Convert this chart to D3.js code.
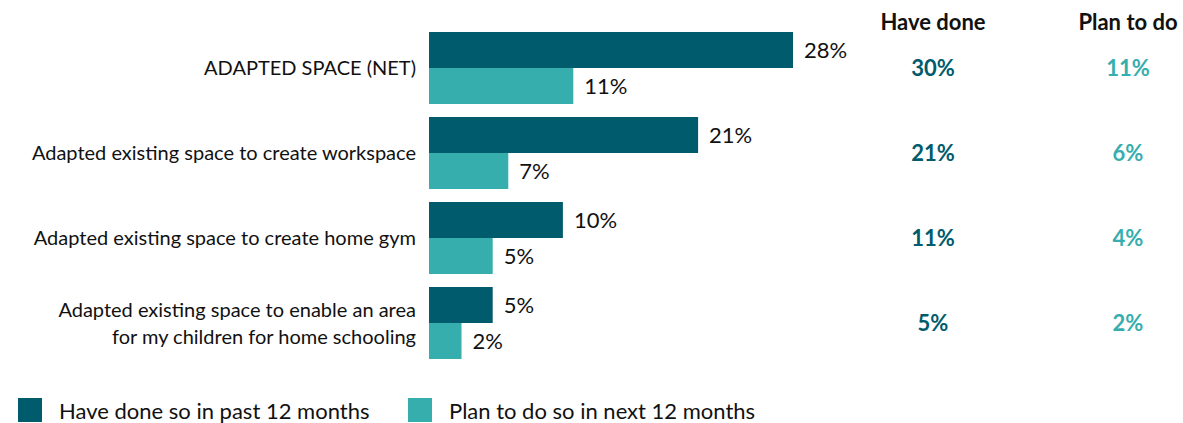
<!DOCTYPE html>
<html>
<head>
<meta charset="utf-8">
<script src="https://cdn.jsdelivr.net/npm/d3@7"></script>
<style>
  body { margin: 0; background: #fff; }
  svg text { font-family: Lato, "Noto Sans", sans-serif; fill: #111; }
</style>
</head>
<body>
<div id="chart"></div>
<script>
// data
var categories = [
	['ADAPTED SPACE (NET)'],
	['Adapted existing space to create workspace'],
	['Adapted existing space to create home gym'],
	['Adapted existing space to enable an area', 'for my children for home schooling']
];
var haveDone = [28, 20.7, 10.3, 4.9];
var planToDo = [11.1, 6.1, 4.9, 2.5];
var haveDoneLabels = ['28%', '21%', '10%', '5%'];
var planToDoLabels = ['11%', '7%', '5%', '2%'];
var haveDoneTotal = ['30%', '21%', '11%', '5%'];
var planToDoTotal = ['11%', '6%', '4%', '2%'];
var seriesNames = ['Have done so in past 12 months', 'Plan to do so in next 12 months'];
var columnHeads = ['Have done', 'Plan to do'];

var width = 1183;
var height = 423;
var darkColor = '#005b6c';
var tealColor = '#36aead';
var barLeft = 429;
var barHeight = 36;

var svg = d3.select('#chart').append('svg').attr('width', width).attr('height', height);

var x = d3.scaleLinear().domain([0, 28]).range([barLeft, barLeft + 364]);
var y = d3.scaleBand().domain(d3.range(categories.length)).range([32, 359]).paddingInner(13 / 85).paddingOuter(0);

var groups = svg.selectAll('g.group').data(categories).enter().append('g')
	.attr('class', 'group')
	.attr('transform', function(d, i){ return 'translate(0,' + y(i) + ')'; });

// category labels (right aligned, centered on the pair of bars)
groups.each(function(lines, i){
	var g = d3.select(this);
	var lineH = 27;
	var top = barHeight - (lines.length - 1) * lineH / 2;
	lines.forEach(function(line, j){
		g.append('text').attr('x', 416).attr('y', top + j * lineH)
			.attr('dy', '0.35em').attr('text-anchor', 'end')
			.style('font-size', '20px').text(line);
	});
});

// bars
groups.append('rect').attr('x', barLeft).attr('y', 0)
	.attr('width', function(d, i){ return x(haveDone[i]) - barLeft; })
	.attr('height', barHeight).style('fill', darkColor);
groups.append('rect').attr('x', barLeft).attr('y', barHeight)
	.attr('width', function(d, i){ return x(planToDo[i]) - barLeft; })
	.attr('height', barHeight).style('fill', tealColor);

// value labels
groups.append('text').attr('x', function(d, i){ return x(haveDone[i]) + 11; })
	.attr('y', barHeight / 2).attr('dy', '0.35em')
	.style('font-size', '22px').text(function(d, i){ return haveDoneLabels[i]; });
groups.append('text').attr('x', function(d, i){ return x(planToDo[i]) + 11; })
	.attr('y', barHeight * 1.5).attr('dy', '0.35em')
	.style('font-size', '22px').text(function(d, i){ return planToDoLabels[i]; });

// right-hand columns
var colX = [933, 1128];
columnHeads.forEach(function(h, k){
	svg.append('text').attr('x', colX[k]).attr('y', 22).attr('dy', '0.35em')
		.attr('text-anchor', 'middle').style('font-size', '22px').style('font-weight', 'bold')
		.text(h);
});
groups.append('text').attr('x', colX[0]).attr('y', barHeight).attr('dy', '0.35em')
	.attr('text-anchor', 'middle').style('font-size', '22px').style('font-weight', 'bold')
	.style('fill', darkColor).text(function(d, i){ return haveDoneTotal[i]; });
groups.append('text').attr('x', colX[1]).attr('y', barHeight).attr('dy', '0.35em')
	.attr('text-anchor', 'middle').style('font-size', '22px').style('font-weight', 'bold')
	.style('fill', tealColor).text(function(d, i){ return planToDoTotal[i]; });

// legend
var legendX = [18, 408];
seriesNames.forEach(function(name, k){
	var lg = svg.append('g').attr('transform', 'translate(' + legendX[k] + ',398)');
	lg.append('rect').attr('width', 24).attr('height', 24).style('fill', k === 0 ? darkColor : tealColor);
	lg.append('text').attr('x', 41).attr('y', 13).attr('dy', '0.35em')
		.style('font-size', '22px').text(name);
});
</script>
</body>
</html>
